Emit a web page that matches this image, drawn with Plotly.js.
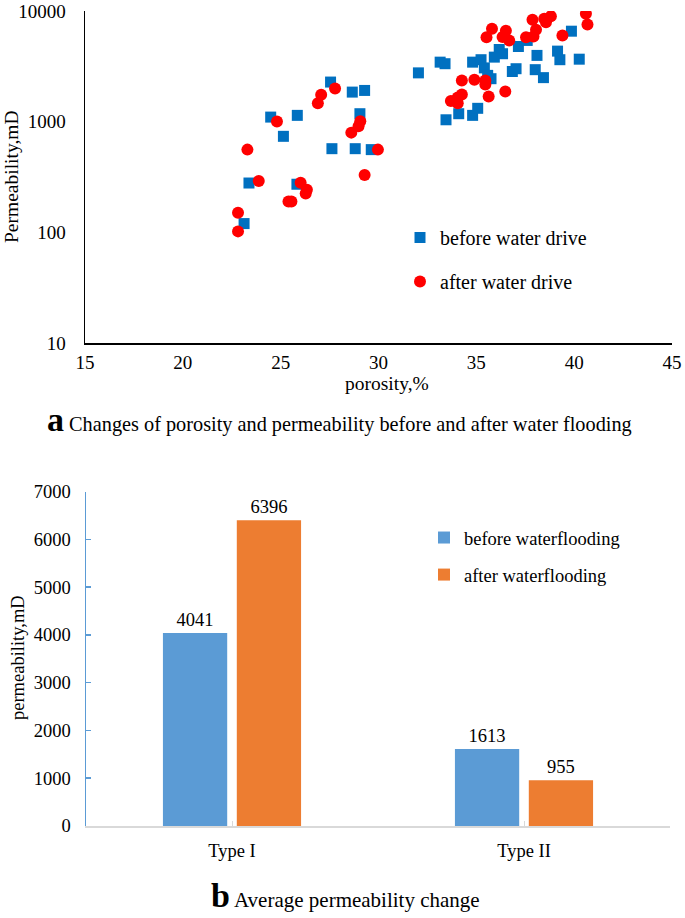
<!DOCTYPE html>
<html><head><meta charset="utf-8">
<script src="https://cdn.plot.ly/plotly-3.0.1.min.js"></script>
<style>html,body{margin:0;padding:0;background:#fff;}#chart{width:685px;height:918px;}</style>
</head><body><div id="chart"></div>
<script>
// ---- Panel a: porosity vs permeability (scatter, log y) ----
const beforePorosity = [23.13,23.38,24.49,25.14,25.85,25.83,27.55,27.62,28.66,28.81,29.29,29.05,29.63,
  32.04,33.15,33.40,33.45,34.10,34.81,35.07,34.81,35.24,35.41,35.58,35.75,35.92,36.17,36.34,37.03,36.84,
  37.15,37.60,38.10,39.15,39.27,38.01,38.43,39.86,40.26];
const beforePerm = [120,279,1100,737,1140,272,2280,570,1850,570,1915,1180,559,
  2760,3450,3340,1040,1180,1140,1320,3450,3630,3060,2620,2445,3830,4490,4110,3010,2840,
  4780,5420,3970,4340,3630,2950,2500,6570,3670];
const afterPorosity = [22.82,22.82,23.30,23.88,24.81,25.40,25.55,26.02,26.34,26.28,26.90,27.07,27.78,28.61,28.98,29.07,29.29,29.97,
  33.70,34.05,34.05,34.26,34.26,34.90,35.46,35.46,35.63,36.48,35.52,35.80,36.34,36.51,36.68,37.54,37.92,38.05,37.87,38.47,38.56,38.81,39.40,40.60,40.68];
const afterPerm = [150,102,559,291,1005,190,190,281,243,224,1470,1750,1990,796,907,1007,330,559,
  1535,1470,1650,1763,2360,2395,2360,2170,1690,1877,5800,6910,5830,6630,5420,5800,5890,6760,8330,8500,7920,8980,6010,9440,7550];
const xTickVals = [15,20,25,30,35,40,45];
const yTickVals = [10,100,1000,10000];
const yTickText = ['10','100','1000','10000'];
const scatterNames = ['before water drive','after water drive'];

// ---- Panel b: average permeability (bars) ----
const barCategories = ['Type I','Type II'];
const barBefore = [4041,1613];
const barAfter = [6396,955];
const barNames = ['before waterflooding','after waterflooding'];

const serif = 'Liberation Serif, Times New Roman, serif';

const traces = [
  {type:'scatter', mode:'markers', x:beforePorosity, y:beforePerm, name:scatterNames[0],
   xaxis:'x', yaxis:'y', legend:'legend', legendgroup:'g1',
   marker:{symbol:'square', size:11, color:'#0070C0', line:{width:0}}},
  {type:'scatter', mode:'markers', x:afterPorosity, y:afterPerm, name:scatterNames[1],
   xaxis:'x', yaxis:'y', legend:'legend', legendgroup:'g2',
   marker:{symbol:'circle', size:12, color:'#FF0000', line:{width:0}}},
  {type:'bar', x:barCategories, y:barBefore, name:barNames[0], xaxis:'x2', yaxis:'y2',
   legend:'legend2', legendgroup:'h1', marker:{color:'#5B9BD5'},
   text:barBefore.map(String), textposition:'outside', constraintext:'none', cliponaxis:false,
   textfont:{size:18.5, color:'#000', family:serif}},
  {type:'bar', x:barCategories, y:barAfter, name:barNames[1], xaxis:'x2', yaxis:'y2',
   legend:'legend2', legendgroup:'h2', marker:{color:'#ED7D31'},
   text:barAfter.map(String), textposition:'outside', constraintext:'none', cliponaxis:false,
   textfont:{size:18.5, color:'#000', family:serif}}
];

const W = 685, H = 918;
const px = v => v / W;
const py = v => 1 - v / H;

const layout = {
  width:W, height:H, margin:{l:0,r:0,t:0,b:0},
  paper_bgcolor:'#ffffff', plot_bgcolor:'rgba(0,0,0,0)',
  font:{family:serif, size:19, color:'#000'},
  showlegend:true,
  barmode:'group', bargap:0.494, bargroupgap:0.13,
  xaxis:{domain:[px(85),px(672)], anchor:'y', range:[15,45], tickmode:'array', tickvals:xTickVals,
    showline:true, linecolor:'#000', linewidth:1.5, showgrid:false, zeroline:false, ticks:'',
    ticklabelstandoff:2, tickfont:{size:19, family:serif}},
  yaxis:{domain:[py(343),py(11)], anchor:'x', type:'log', range:[1,4], tickmode:'array',
    tickvals:yTickVals, ticktext:yTickText,
    showline:true, linecolor:'#000', linewidth:1.5, showgrid:false, zeroline:false, ticks:'',
    ticklabelstandoff:14, tickfont:{size:19, family:serif}},
  xaxis2:{domain:[px(86),px(670)], anchor:'y2', type:'category',
    showline:true, linecolor:'#D9D9D9', linewidth:1.5, ticks:'inside', ticklen:5,
    tickcolor:'#D9D9D9', tickwidth:1, showgrid:false, zeroline:false, ticklabelstandoff:7, tickfont:{size:18.5, family:serif}},
  yaxis2:{domain:[py(826),py(491.5)], anchor:'x2', range:[0,7000], dtick:1000, tick0:0,
    showline:true, linecolor:'#5B9BD5', linewidth:1.5, ticks:'inside', ticklen:5,
    tickcolor:'#5B9BD5', tickwidth:1.5, showgrid:false, zeroline:false, ticklabelstandoff:10, tickfont:{size:18.5, family:serif}},
  legend:{x:px(400), xanchor:'left', y:py(218), yanchor:'top', bgcolor:'rgba(0,0,0,0)',
    traceorder:'grouped', tracegroupgap:15, font:{size:20, family:serif}},
  legend2:{x:px(424), xanchor:'left', y:py(519), yanchor:'top', bgcolor:'rgba(0,0,0,0)',
    traceorder:'grouped', tracegroupgap:10, font:{size:18.5, family:serif}},
  annotations:[
    {text:'Permeability,mD', xref:'paper', yref:'paper', x:px(12), y:py(177), xanchor:'center', yanchor:'middle',
     textangle:-90, showarrow:false, font:{size:19.5, family:serif}},
    {text:'porosity,%', xref:'paper', yref:'paper', x:px(387), y:py(383), xanchor:'center', yanchor:'middle',
     showarrow:false, font:{size:19.5, family:serif}},
    {text:'<span style="font-size:34px;font-weight:bold">a</span> Changes of porosity and permeability before and after water flooding',
     xref:'paper', yref:'paper', x:px(339), y:py(420), xanchor:'center', yanchor:'middle',
     showarrow:false, font:{size:20.3, family:serif}},
    {text:'permeability,mD', xref:'paper', yref:'paper', x:px(18), y:py(658), xanchor:'center', yanchor:'middle',
     textangle:-90, showarrow:false, font:{size:18.5, family:serif}},
    {text:'<span style="font-size:34px;font-weight:bold">b</span> Average permeability change',
     xref:'paper', yref:'paper', x:px(345), y:py(895), xanchor:'center', yanchor:'middle',
     showarrow:false, font:{size:21, family:serif}}
  ]
};

Plotly.newPlot('chart', traces, layout, {displayModeBar:false, staticPlot:true});
</script>
</body></html>
